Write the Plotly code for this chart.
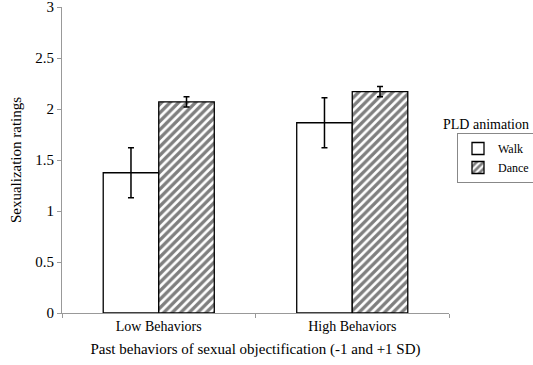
import plotly.graph_objects as go

categories = ["Low Behaviors", "High Behaviors"]
walk_vals = [1.375, 1.865]
walk_err = [0.245, 0.245]
dance_vals = [2.07, 2.17]
dance_err = [0.05, 0.05]
y_ticks = [0, 0.5, 1, 1.5, 2, 2.5, 3]
y_labels = ["0", "0.5", "1", "1.5", "2", "2.5", "3"]

font = dict(family="Liberation Serif", size=13, color="black")

fig = go.Figure()
fig.add_trace(go.Bar(
    name="Walk", x=categories, y=walk_vals,
    marker=dict(color="white", line=dict(color="black", width=1.3)),
    error_y=dict(type="data", array=walk_err, color="black", thickness=1.5, width=3),
))
fig.add_trace(go.Bar(
    name="Dance", x=categories, y=dance_vals,
    marker=dict(color="white", line=dict(color="black", width=1.3),
                pattern=dict(shape="/", fgcolor="black", bgcolor="white", size=6, solidity=0.55)),
    error_y=dict(type="data", array=dance_err, color="black", thickness=1.5, width=3),
))

fig.update_layout(
    width=533, height=365,
    margin=dict(l=62, r=84, t=7, b=52, autoexpand=False),
    paper_bgcolor="white", plot_bgcolor="white",
    font=font,
    barmode="group", bargap=0.426, bargroupgap=0,
    showlegend=True,
    legend=dict(xref="container", yref="container", x=457/533, y=1-133/365,
                xanchor="left", yanchor="top",
                bordercolor="#888888", borderwidth=1, font=dict(size=12),
                itemwidth=30, tracegroupgap=0),
    annotations=[dict(text="PLD animation", x=(441-62)/387, y=(313-134)/306,
                      xref="paper", yref="paper",
                      xanchor="left", yanchor="bottom", showarrow=False,
                      font=dict(size=14))],
    xaxis=dict(showline=True, linecolor="#999999", linewidth=1,
               ticks="outside", tickson="boundaries", ticklen=4, tickcolor="#999999",
               title=dict(text="Past behaviors of sexual objectification (-1 and +1 SD)",
                          font=dict(size=15), standoff=10),
               tickfont=dict(size=14)),
    yaxis=dict(range=[0, 3], tickvals=y_ticks, ticktext=y_labels,
               showline=True, linecolor="#999999", linewidth=1,
               ticks="outside", ticklen=4, tickcolor="#999999",
               showgrid=False, zeroline=False, ticklabeloverflow="allow",
               title=dict(text="Sexualization ratings", font=dict(size=15), standoff=10),
               tickfont=dict(size=15)),
)

fig.write_html("out.html", config={"displayModeBar": False},
               post_script="document.body.style.margin='0px';")
